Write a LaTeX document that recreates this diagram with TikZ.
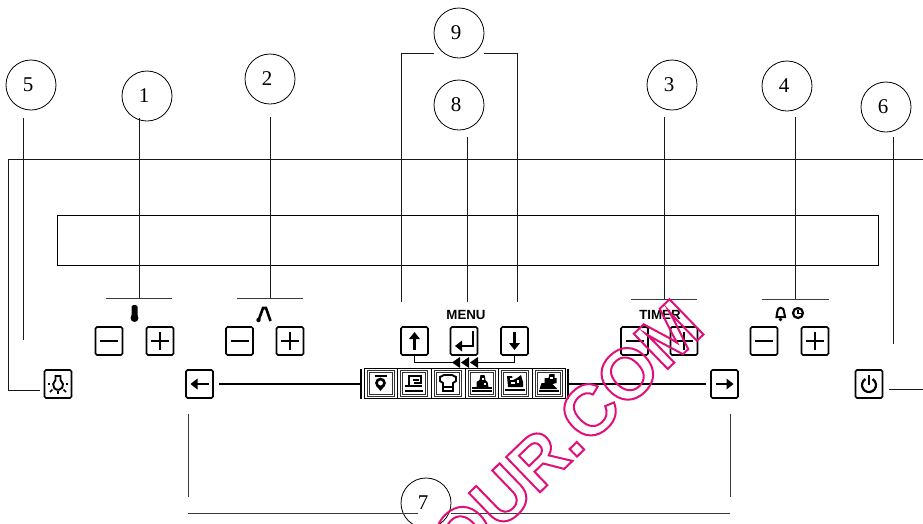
\documentclass[tikz,border=0pt]{standalone}
\usepackage{fontspec}
\setmainfont{Liberation Serif}
\newfontfamily\labelfont{Liberation Sans}
\definecolor{wm}{HTML}{E0107A}
\definecolor{ln}{HTML}{1A1A1A}
\newcommand\dg[1]{\kern-6pt #1}
\tikzset{
  callout/.style={circle,draw=black,line width=0.8pt,minimum size=50pt,inner sep=0pt,font=\fontsize{21}{21}\selectfont},
  leader/.style={draw=ln,line width=1pt},
  bar/.style={draw=ln!85,line width=1pt},
  rail/.style={draw=black,line width=2.2pt},
  btn/.style={draw=black,line width=1.6pt,rounded corners=1.5pt,minimum width=27pt,minimum height=28pt,inner sep=0pt},
  glyph/.style={draw=black,line width=1.6pt},
  heavy/.style={draw=black,line width=2.2pt},
  link/.style={draw=black,line width=1.8pt},
  cell/.style={draw=black,line width=0.9pt,minimum height=30pt,inner sep=0pt},
  frameA/.style={draw=black!80,line width=0.9pt,minimum width=27pt,minimum height=26pt,inner sep=0pt},
  frameB/.style={draw=black!80,line width=0.9pt,minimum width=23pt,minimum height=22pt,inner sep=0pt},
  panel/.style={font=\labelfont\bfseries\fontsize{13.3}{14}\selectfont,inner sep=0pt},
}
\begin{document}
\begin{tikzpicture}[x=1pt,y=-1pt]
\useasboundingbox (0,0) rectangle (923,523);
% callouts
\node[callout] (c1) at (147,96) {\dg{1}};
\node[callout] (c2) at (270,79) {\dg{2}};
\node[callout] (c3) at (672,85) {\dg{3}};
\node[callout] (c4) at (787,86) {\dg{4}};
\node[callout] (c5) at (31,85) {\dg{5}};
\node[callout] (c6) at (886,107) {\dg{6}};
\node[callout] (c7) at (426,503) {\dg{7}};
\node[callout] (c8) at (459,105) {\dg{8}};
\node[callout] (c9) at (459,33) {\dg{9}};
% panel outlines
\coordinate (pl) at (8,159);
\coordinate (pr) at (923,159);
\draw[leader] (pl) -- (pr);
\node[draw=black,line width=0.8pt,minimum width=821pt,minimum height=50pt,inner sep=0pt] (disp) at (467.5,240) {};
% buttons
\foreach \n/\x/\y in {m1/109/341,p1/160/341,m2/239.5/341,p2/290/341,m3/634.5/341,p3/684/341,m4/764/341,p4/815/341,
  up/414.5/341,ent/464/341,dn/514.5/341,lf/199.5/384,rt/724.5/384,lamp/58/384,pow/869/384}
  \node[btn] (\n) at (\x,\y) {};
% minus and plus
\foreach \n in {m1,m2,m3,m4}
  \draw[glyph] ([xshift=-9pt]\n.center) -- ([xshift=9pt]\n.center);
\foreach \n in {p1,p2,p3,p4}{
  \draw[glyph] ([xshift=-9pt]\n.center) -- ([xshift=9pt]\n.center);
  \draw[glyph] ([yshift=-9pt]\n.center) -- ([yshift=9pt]\n.center);
}
% arrows in buttons (local y runs down)
\begin{scope}[shift={(up.center)}]
  \draw[heavy] (0,-3) -- (0,9);
  \fill (0,-9) -- (-5.5,-2) -- (5.5,-2) -- cycle;
\end{scope}
\begin{scope}[shift={(dn.center)}]
  \draw[heavy] (0,-9) -- (0,3);
  \fill (0,9) -- (-5.5,2) -- (5.5,2) -- cycle;
\end{scope}
\begin{scope}[shift={(ent.center)}]
  \draw[heavy] (9,-10) -- (9,5) -- (-3,5);
  \fill (-9,5) -- (-2,-0.5) -- (-2,10.5) -- cycle;
\end{scope}
\begin{scope}[shift={(lf.center)}]
  \draw[heavy] (-3,0) -- (9,0);
  \fill (-9,0) -- (-2,-5.5) -- (-2,5.5) -- cycle;
\end{scope}
\begin{scope}[shift={(rt.center)}]
  \draw[heavy] (-9,0) -- (3,0);
  \fill (9,0) -- (2,-5.5) -- (2,5.5) -- cycle;
\end{scope}
% power
\begin{scope}[shift={(pow.center)}]
  \draw[heavy] (-3.5,-5) arc[start angle=120,end angle=420,radius=7pt];
  \draw[heavy] (0,-9) -- (0,1);
\end{scope}
% lamp
\begin{scope}[shift={(lamp.center)}]
  \draw[black,line width=1.9pt] (-2.5,-8) -- (2.5,-8) -- (2.5,-4) -- (5,0) arc[start angle=10,end angle=-190,radius=5pt] -- (-2.5,-4) -- cycle;
  \foreach \ax/\ay/\bx/\by in {-10/0/-8/0,7.5/0/10/0,-8/8/-5.5/5.5,5.5/5.5/8/8,0/7/0/10}
    \draw[black,line width=1.7pt] (\ax,\ay) -- (\bx,\by);
\end{scope}
% programme strip
\node[cell,minimum width=33pt] (s1) at (380.5,383) {};
\node[cell,minimum width=34pt] (s2) at (414,383) {};
\node[cell,minimum width=34pt] (s3) at (448,383) {};
\node[cell,minimum width=33pt] (s4) at (481.5,383) {};
\node[cell,minimum width=34pt] (s5) at (515,383) {};
\node[cell,minimum width=33pt] (s6) at (548.5,383) {};
\foreach \n in {s1,s2,s3,s4,s5,s6}{
  \node[frameA] (a\n) at (\n) {};
  \node[frameB] (b\n) at (\n) {};
}
\coordinate (sl) at (361,383.5);
\coordinate (sr) at (567.5,383.5);
\draw[black,line width=2pt] ([yshift=15pt]sl) -- ([yshift=-15pt]sl);
\draw[black,line width=2pt] ([yshift=15pt]sr) -- ([yshift=-15pt]sr);
% strip icons
\begin{scope}[shift={(bs1.center)}]
  \draw[black,line width=2pt] (-6,-7) -- (6,-7);
  \draw[black,line width=2.6pt] (0,0) circle[radius=4pt];
  \fill (-4,3) -- (4,3) -- (0,8) -- cycle;
\end{scope}
\begin{scope}[shift={(bs2.center)}]
  \draw[black,line width=1.6pt] (-5,3) -- (-5,-7) -- (7,-7) -- (7,1);
  \draw[black,line width=1.4pt] (-9,3) -- (8,3);
  \draw[black,line width=1.6pt] (-9,8) -- (9,8);
  \fill (-1,-4) rectangle (5,-2);
  \fill (0,-1) rectangle (6,1);
\end{scope}
\begin{scope}[shift={(bs3.center)}]
  \draw[black,line width=1.9pt] (-5,0) -- (-8,-2) -- (-8,-6) -- (-4,-8) -- (4,-8) -- (8,-6) -- (8,-2) -- (5,0) -- (5,8) -- (-5,8) -- cycle;
  \draw[black,line width=1.4pt] (-5,4) -- (5,4);
\end{scope}
\begin{scope}[shift={(bs4.center)}]
  \fill (-5,4) -- (-5,-1) -- (-2,-3) -- (-1,-8) -- (3,-8) -- (4,-3) -- (6,-1) -- (7,4) -- cycle;
  \fill[white] (0,-5) rectangle (2,-3);
  \fill[white] (2,0) rectangle (4,1.5);
  \fill (-10,4) rectangle (10,6);
  \draw[black,line width=1.6pt] (-10,8) -- (10,8);
\end{scope}
\begin{scope}[shift={(bs5.center)}]
  \fill (-7,4) -- (-8,-7) -- (-3,-7) -- (-2,-3) -- (2,-5) -- (6,-8) -- (8,-1) -- (8,4) -- cycle;
  \fill[white] (-5,-5) rectangle (-2,-3);
  \fill[white] (-4,-1) rectangle (0,1);
  \fill[white] (2,-3) rectangle (4,0);
  \draw[black,line width=1.6pt] (-10,7) -- (10,7);
\end{scope}
\begin{scope}[shift={(bs6.center)}]
  \fill (-9,6) -- (-7,0) -- (-4,0) -- (-4,-5) -- (0,-5) -- (1,-9) -- (6,-9) -- (6,-5) -- (8,-5) -- (8,0) -- (4,1) -- (9,6) -- cycle;
  \fill[white] (1,-6) rectangle (4,-4);
  \draw[black,line width=1.6pt] (-10,8) -- (10,8);
\end{scope}
% strip connectors
\coordinate (t1) at (454,362.5);
\coordinate (t2) at (476,362.5);
\draw[link] (up.south) |- (t1);
\draw[link] (dn.south) |- (t2);
\foreach \x in {452,461,470}
  \fill (\x,362.5) -- ++(8,-5.5) -- ++(0,11) -- cycle;
% main rail
\draw[rail] ([xshift=5pt]lf.east) -- (sl |- lf.east);
\draw[rail] (sr |- rt.west) -- ([xshift=-4pt]rt.west);
% leaders
\coordinate (l1) at (139,118);
\coordinate (l2) at (270,117);
\coordinate (l3) at (664,117);
\coordinate (l4) at (795,117);
\coordinate (l5) at (23,118);
\coordinate (l6) at (893.5,137);
\coordinate (l8) at (467,137);
\draw[leader] (l1) -- (l1 |- 0,298);
\draw[bar] (106,298) -- (172,298);
\draw[leader] (l2) -- (l2 |- 0,298);
\draw[bar] (237,298) -- (303,298);
\draw[leader] (l3) -- (l3 |- 0,299);
\draw[bar] (631,299) -- (697,299);
\draw[leader] (l4) -- (l4 |- 0,299);
\draw[bar] (762,299) -- (829,299);
\draw[leader] (l5) -- (l5 |- 0,340);
\draw[leader] (l6) -- (l6 |- 0,344);
\draw[leader] (pl) -- (8,390) -- (40,390);
\draw[leader] (889,389.5) -- (923,389.5);
\draw[leader] (l8) -- (l8 |- 0,302);
\draw[leader] (434,53) -- (401,53) -- (401,302);
\draw[leader] (484,53) -- (517,53) -- (517,302);
\draw[bar] (188,414) -- (188,497);
\draw[bar] (730,414) -- (730,497);
\draw[bar] (188,513) -- (418,513);
\draw[bar] (451,513) -- (730,513);
% labels
\node[panel] (menu) at (466,315) {MENU};
\node[panel] (timer) at (660,315) {TIMER};
% thermometer, peak, bell, clock
\fill[rounded corners=1.5pt] (131.5,305) rectangle (137.5,318);
\fill (134.5,318) circle[radius=4pt];
\draw[black,line width=2.6pt] (259,319) -- (263,308) -- (266,308) -- (270.5,321);
\fill (258.5,320) circle[radius=2.2pt];
\draw[black,line width=2pt] (776.5,317) -- (777.5,311) arc[start angle=180,end angle=0,radius=3.2pt] -- (785,317) -- cycle;
\fill (780.5,319.5) circle[radius=1.8pt];
\draw[black,line width=2.2pt] (798,313) circle[radius=5pt];
\draw[black,line width=1.6pt] (798,310) -- (798,313.5) -- (801.5,313.5);
% watermark
\begin{scope}
\clip (0,0) rectangle (923,523);
\node[anchor=base east,rotate=44,inner sep=0pt,text=wm,font=\labelfont\bfseries\fontsize{71}{71}\selectfont] (wm) at (707,331)
  {\special{pdf:code q 1 Tr 2 w 0.878 0.063 0.478 RG}OUR.COM\special{pdf:code Q}};
\end{scope}
\end{tikzpicture}
\end{document}
